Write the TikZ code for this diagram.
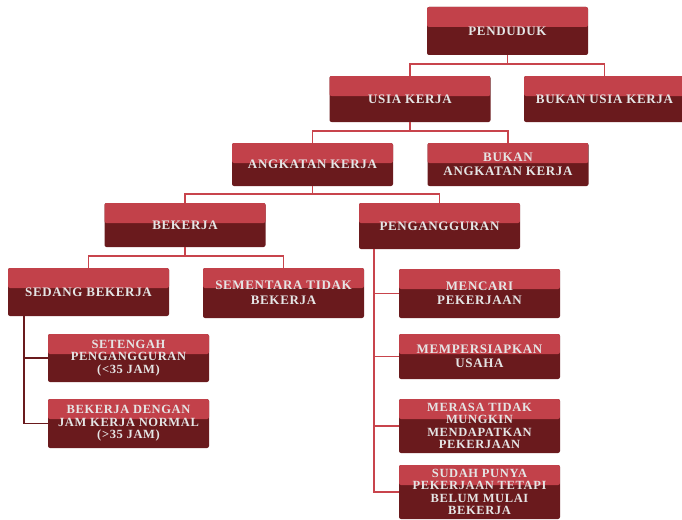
\documentclass[tikz,border=0pt]{standalone}
\usepackage{fontspec}
\setmainfont{Liberation Serif}[LetterSpace=5]
\definecolor{merahmuda}{HTML}{C2414A}
\definecolor{merahtua}{HTML}{6A1A1D}
\definecolor{garismerah}{HTML}{C8444C}

\begin{document}
\begin{tikzpicture}[x=1pt, y=-1pt,
  kotak/.style={fill=merahtua, rounded corners=2pt, minimum width=161pt, inner sep=1pt,
    align=center, text=white!90!black, font=\fontsize{13}{14.5}\selectfont\bfseries,
    path picture={\fill[merahmuda] (path picture bounding box.north west) rectangle ([yshift=-20pt]path picture bounding box.north east);}},
  padat/.style={font=\fontsize{12.5}{12.6}\selectfont\bfseries},
  garis/.style={draw=garismerah, line width=1.6pt},
  garistua/.style={draw=merahtua, line width=1.6pt}]
\clip (0,0) rectangle (682,519);

% Level atas
\node[kotak, minimum height=48pt] (penduduk) at (507.5,31) {PENDUDUK};
\node[kotak, minimum height=46pt] (usia) at (410,99) {USIA KERJA};
\node[kotak, minimum height=46pt] (bukanusia) at (604.5,99) {BUKAN USIA KERJA};
\node[kotak, minimum height=43pt] (angkatan) at (312.5,164.5) {ANGKATAN KERJA};
\node[kotak, minimum height=43pt] (bukanangkatan) at (508,164.5) {BUKAN\\ANGKATAN KERJA};
\node[kotak, minimum height=44pt] (bekerja) at (185,225) {BEKERJA};
\node[kotak, minimum height=46pt] (penganggur) at (439.5,226) {PENGANGGURAN};

% Cabang bekerja
\node[kotak, minimum height=48pt] (sedang) at (88.5,292) {SEDANG BEKERJA};
\node[kotak, minimum height=50pt] (sementara) at (283.5,293) {SEMENTARA TIDAK\\BEKERJA};
\node[kotak, padat, minimum height=48pt] (setengah) at (128.5,358) {SETENGAH\\PENGANGGURAN\\(<35 JAM)};
\node[kotak, padat, minimum height=49pt] (normal) at (128.5,423.5) {BEKERJA DENGAN\\JAM KERJA NORMAL\\(>35 JAM)};

% Cabang pengangguran
\node[kotak, minimum height=49pt] (mencari) at (479.5,293.5) {MENCARI\\PEKERJAAN};
\node[kotak, minimum height=45pt] (usaha) at (479.5,356.5) {MEMPERSIAPKAN\\USAHA};
\node[kotak, padat, minimum height=54pt] (merasa) at (479.5,426) {MERASA TIDAK\\MUNGKIN\\MENDAPATKAN\\PEKERJAAN};
\node[kotak, padat, minimum height=54pt] (sudah) at (479.5,492) {SUDAH PUNYA\\PEKERJAAN TETAPI\\BELUM MULAI\\BEKERJA};

% Garis penghubung
\draw[garis] (penduduk.south) -- ++(0,9) coordinate (c1) -| (usia.north) (c1) -| (bukanusia.north);
\draw[garis] (usia.south) -- ++(0,9) coordinate (c2) -| (angkatan.north) (c2) -| (bukanangkatan.north);
\draw[garis] (angkatan.south) -- ++(0,8) coordinate (c3) -| (bekerja.north) (c3) -| (penganggur.north);
\draw[garis] (bekerja.south) -- ++(0,9) coordinate (c4) -| (sedang.north) (c4) -| (sementara.north);

\coordinate (tulang1) at ([xshift=16pt]sedang.south west);
\draw[garistua] (tulang1) |- (normal.west);
\draw[garistua] (tulang1 |- setengah.west) -- (setengah.west);

\coordinate (tulang2) at ([xshift=15pt]penganggur.south west);
\draw[garis] (tulang2) |- (sudah.west);
\draw[garis] (tulang2 |- mencari.west) -- (mencari.west);
\draw[garis] (tulang2 |- usaha.west) -- (usaha.west);
\draw[garis] (tulang2 |- merasa.west) -- (merasa.west);

\end{tikzpicture}
\end{document}
